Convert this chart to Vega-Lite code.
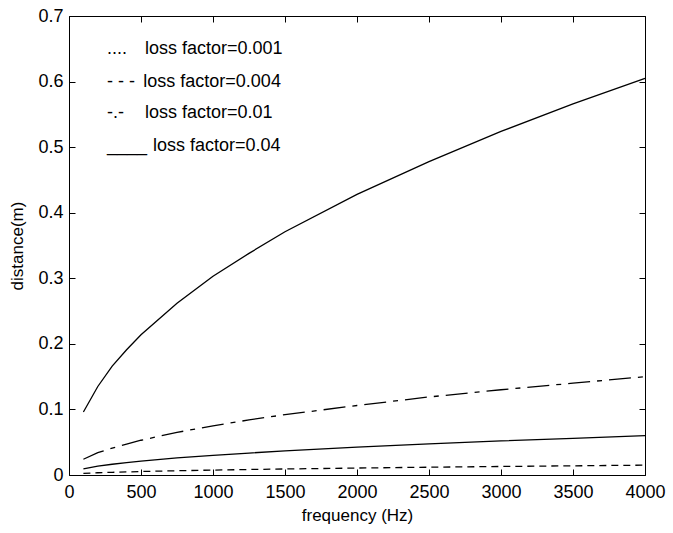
{
  "$schema": "https://vega.github.io/schema/vega-lite/v6.json",
  "width": 576,
  "height": 459,
  "autosize": "none",
  "padding": {"left": 69, "top": 16, "right": 28, "bottom": 58},
  "datasets": {
    "curves": [
      {"f": 100, "d": 0.096, "s": "a"}, {"f": 200, "d": 0.135, "s": "a"}, {"f": 300, "d": 0.166, "s": "a"}, {"f": 400, "d": 0.191, "s": "a"}, {"f": 500, "d": 0.214, "s": "a"}, {"f": 750, "d": 0.262, "s": "a"}, {"f": 1000, "d": 0.303, "s": "a"}, {"f": 1250, "d": 0.338, "s": "a"}, {"f": 1500, "d": 0.371, "s": "a"}, {"f": 2000, "d": 0.428, "s": "a"}, {"f": 2500, "d": 0.478, "s": "a"}, {"f": 3000, "d": 0.524, "s": "a"}, {"f": 3500, "d": 0.566, "s": "a"}, {"f": 4000, "d": 0.605, "s": "a"},
      {"f": 100, "d": 0.024, "s": "b"}, {"f": 200, "d": 0.034, "s": "b"}, {"f": 300, "d": 0.041, "s": "b"}, {"f": 400, "d": 0.047, "s": "b"}, {"f": 500, "d": 0.053, "s": "b"}, {"f": 750, "d": 0.065, "s": "b"}, {"f": 1000, "d": 0.075, "s": "b"}, {"f": 1250, "d": 0.084, "s": "b"}, {"f": 1500, "d": 0.092, "s": "b"}, {"f": 2000, "d": 0.106, "s": "b"}, {"f": 2500, "d": 0.119, "s": "b"}, {"f": 3000, "d": 0.130, "s": "b"}, {"f": 3500, "d": 0.140, "s": "b"}, {"f": 4000, "d": 0.150, "s": "b"},
      {"f": 100, "d": 0.0095, "s": "c"}, {"f": 200, "d": 0.0134, "s": "c"}, {"f": 300, "d": 0.0164, "s": "c"}, {"f": 400, "d": 0.019, "s": "c"}, {"f": 500, "d": 0.0212, "s": "c"}, {"f": 750, "d": 0.026, "s": "c"}, {"f": 1000, "d": 0.030, "s": "c"}, {"f": 1250, "d": 0.0335, "s": "c"}, {"f": 1500, "d": 0.0367, "s": "c"}, {"f": 2000, "d": 0.0424, "s": "c"}, {"f": 2500, "d": 0.0474, "s": "c"}, {"f": 3000, "d": 0.052, "s": "c"}, {"f": 3500, "d": 0.056, "s": "c"}, {"f": 4000, "d": 0.060, "s": "c"},
      {"f": 100, "d": 0.0024, "s": "d"}, {"f": 200, "d": 0.0034, "s": "d"}, {"f": 300, "d": 0.0041, "s": "d"}, {"f": 400, "d": 0.0047, "s": "d"}, {"f": 500, "d": 0.0053, "s": "d"}, {"f": 750, "d": 0.0065, "s": "d"}, {"f": 1000, "d": 0.0075, "s": "d"}, {"f": 1250, "d": 0.0084, "s": "d"}, {"f": 1500, "d": 0.0092, "s": "d"}, {"f": 2000, "d": 0.0106, "s": "d"}, {"f": 2500, "d": 0.0119, "s": "d"}, {"f": 3000, "d": 0.013, "s": "d"}, {"f": 3500, "d": 0.014, "s": "d"}, {"f": 4000, "d": 0.015, "s": "d"}
    ],
    "legend": [
      {"gx": 264, "lx": 528, "y": 0.649, "glyph": "....", "label": "loss factor=0.001"},
      {"gx": 264, "lx": 516, "y": 0.600, "glyph": "- - -", "label": "loss factor=0.004"},
      {"gx": 264, "lx": 528, "y": 0.552, "glyph": "-.-", "label": "loss factor=0.01"},
      {"gx": 264, "lx": 583, "y": 0.502, "glyph": "____", "label": "loss factor=0.04"}
    ]
  },
  "resolve": {"axis": {"x": "independent", "y": "independent"}},
  "layer": [
    {
      "data": {"name": "curves"},
      "transform": [{"filter": "datum.s == 'a' || datum.s == 'c'"}],
      "mark": {"type": "line", "color": "black", "strokeWidth": 1.3},
      "encoding": {
        "x": {"field": "f", "type": "quantitative", "scale": {"domain": [0, 4000], "nice": false},
          "axis": {"orient": "bottom", "grid": false, "domainColor": "#000000", "tickColor": "#000000", "labelFontSize": 18, "titleFontSize": 17, "titleFontWeight": "normal", "labelFlush": false,
            "tickCount": 8, "format": "d", "tickSize": -6, "labelPadding": 14, "title": "frequency (Hz)", "titlePadding": 6}},
        "y": {"field": "d", "type": "quantitative", "scale": {"domain": [0, 0.7], "nice": false, "zero": false},
          "axis": {"orient": "left", "grid": false, "domainColor": "#000000", "tickColor": "#000000", "labelFontSize": 18, "titleFontSize": 17, "titleFontWeight": "normal", "labelFlush": false,
            "tickCount": 7, "format": ".1~f", "tickSize": -6, "labelPadding": 12, "title": "distance(m)", "titleX": -52, "titleBaseline": "middle"}},
        "detail": {"field": "s"}
      }
    },
    {
      "data": {"name": "curves"},
      "transform": [{"filter": "datum.s == 'b'"}],
      "mark": {"type": "line", "color": "black", "strokeWidth": 1.3, "strokeDash": [22, 7, 5, 7]},
      "encoding": {
        "x": {"field": "f", "type": "quantitative", "axis": null},
        "y": {"field": "d", "type": "quantitative", "axis": null}
      }
    },
    {
      "data": {"name": "curves"},
      "transform": [{"filter": "datum.s == 'd'"}],
      "mark": {"type": "line", "color": "black", "strokeWidth": 1.3, "strokeDash": [7, 5]},
      "encoding": {
        "x": {"field": "f", "type": "quantitative", "axis": null},
        "y": {"field": "d", "type": "quantitative", "axis": null}
      }
    },
    {
      "data": {"name": "legend"},
      "mark": {"type": "text", "align": "left", "baseline": "middle", "fontSize": 18, "color": "black"},
      "encoding": {
        "x": {"field": "gx", "type": "quantitative", "axis": {"orient": "top", "grid": false, "domainColor": "#000000", "tickColor": "#000000", "tickCount": 8, "labels": false, "title": null, "tickSize": -6}},
        "y": {"field": "y", "type": "quantitative", "axis": {"orient": "right", "grid": false, "domainColor": "#000000", "tickColor": "#000000", "tickCount": 7, "labels": false, "title": null, "tickSize": -6}},
        "text": {"field": "glyph"}
      }
    },
    {
      "data": {"name": "legend"},
      "mark": {"type": "text", "align": "left", "baseline": "middle", "fontSize": 18, "color": "black"},
      "encoding": {
        "x": {"field": "lx", "type": "quantitative", "axis": null},
        "y": {"field": "y", "type": "quantitative", "axis": null},
        "text": {"field": "label"}
      }
    }
  ]
}
